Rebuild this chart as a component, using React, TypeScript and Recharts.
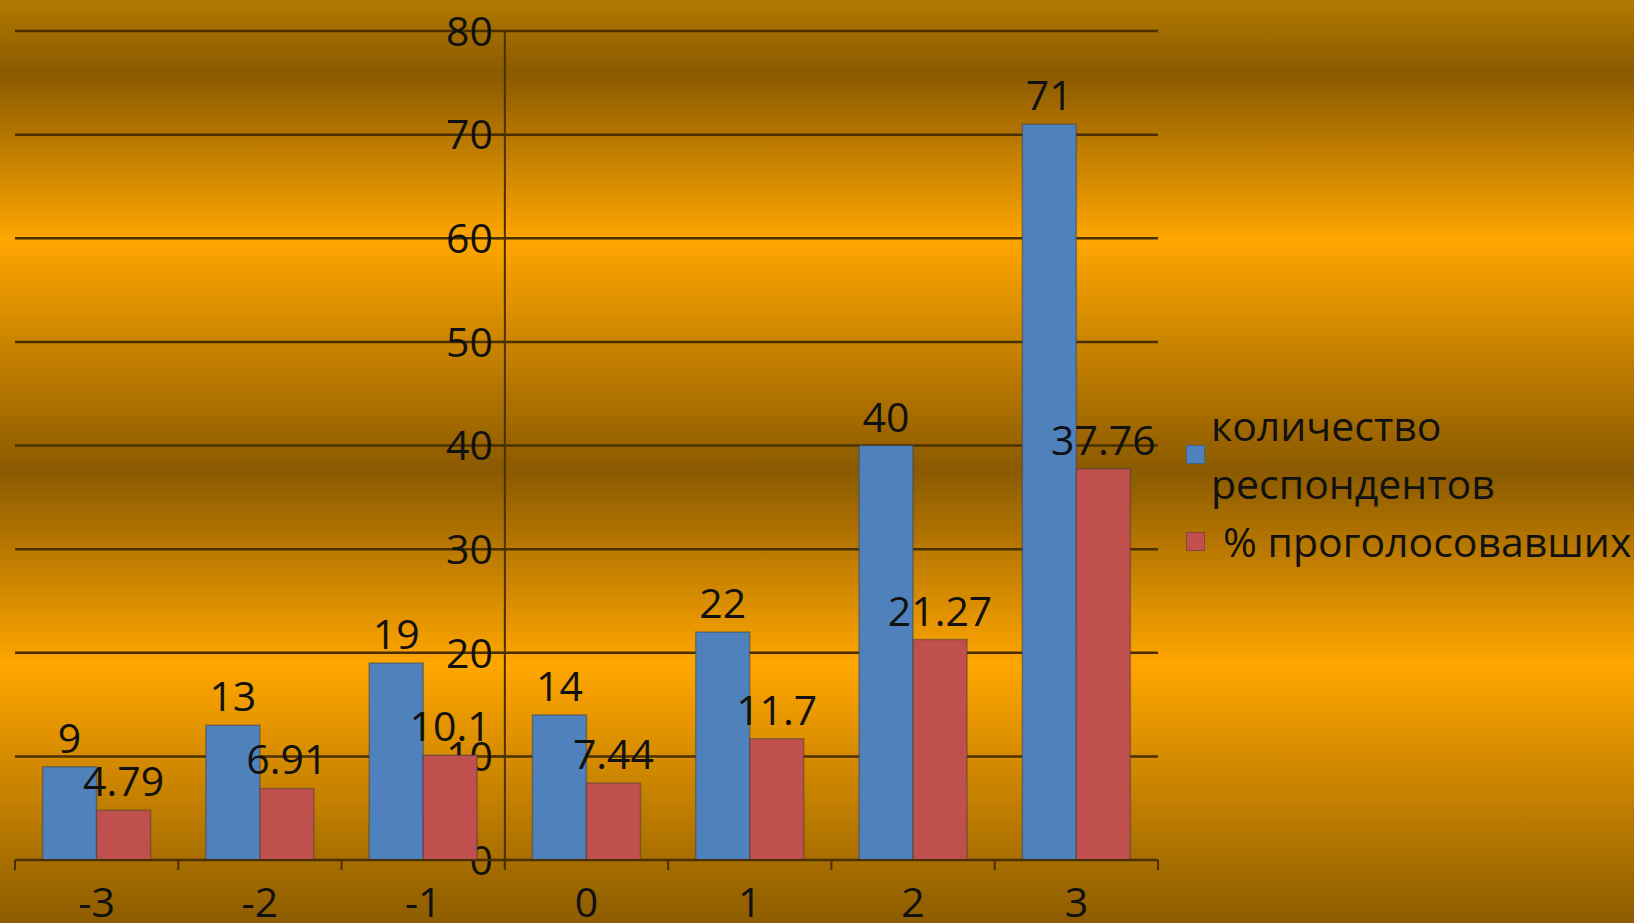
import React from "react";
import {
  BarChart,
  Bar,
  XAxis,
  YAxis,
  CartesianGrid,
  LabelList,
  ReferenceLine,
  Legend,
} from "recharts";

const categories = ["-3", "-2", "-1", "0", "1", "2", "3"];
const respondents = [9, 13, 19, 14, 22, 40, 71];
const votedPct = [4.79, 6.91, 10.1, 7.44, 11.7, 21.27, 37.76];
const yTicks = [0, 10, 20, 30, 40, 50, 60, 70, 80];
const seriesNames = ["количество респондентов", "% проголосовавших"];
const seriesColors = ["#4F81BD", "#C0504D"];

const data = categories.map((c, i) => ({
  cat: c,
  resp: respondents[i],
  pct: votedPct[i],
}));

const W = 1634;
const H = 923;
const Y_AXIS_W = 1;
const M = { top: 31, right: 476, bottom: 0, left: 15 - Y_AXIS_W };
const X_AXIS_H = 63;
const PLOT_LEFT = M.left + Y_AXIS_W;
const PLOT_W = W - PLOT_LEFT - M.right;
const BAND = PLOT_W / categories.length;
// value axis crosses between "-1" and "0"
const Y_AXIS_X = PLOT_LEFT + BAND * 3;
const AXIS_Y = H - M.bottom - X_AXIS_H;
const Y_MAX = yTicks[yTicks.length - 1];

const INK = "#111";
const LINE = "#4a3000";
const FONT = "'Open Sans', sans-serif";
const FS = 41;

const EmptyTick = () => <g />;

// gridline + value label + tick mark, drawn in the grid layer so bars sit on top
const GridRow = (props: any) => {
  const { x1, x2, y1 } = props;
  const value = Math.round(((AXIS_Y - y1) / (AXIS_Y - M.top)) * Y_MAX);
  return (
    <g key={`row-${value}`}>
      <line x1={x1} x2={x2} y1={y1} y2={y1} stroke={LINE} strokeWidth={2.5} />
      <line x1={Y_AXIS_X - 12} x2={Y_AXIS_X} y1={y1} y2={y1} stroke={LINE} strokeWidth={2} />
      {value === 0 && (
        <line x1={Y_AXIS_X} x2={Y_AXIS_X} y1={y1} y2={y1 + 8} stroke={LINE} strokeWidth={2} />
      )}
      <text
        x={Y_AXIS_X - 12}
        y={y1}
        dy="0.36em"
        textAnchor="end"
        fontSize={FS}
        fontFamily={FONT}
        fill={INK}
      >
        {value}
      </text>
    </g>
  );
};

const XTick = (props: any) => {
  const { x, payload, index } = props;
  const left = x - BAND / 2;
  return (
    <g>
      <line x1={left} x2={left} y1={AXIS_Y} y2={AXIS_Y + 10} stroke={LINE} strokeWidth={2} />
      {index === categories.length - 1 && (
        <line
          x1={x + BAND / 2}
          x2={x + BAND / 2}
          y1={AXIS_Y}
          y2={AXIS_Y + 10}
          stroke={LINE}
          strokeWidth={2}
        />
      )}
      <text x={x} y={AXIS_Y + 57} textAnchor="middle" fontSize={FS} fontFamily={FONT} fill={INK}>
        {payload.value}
      </text>
    </g>
  );
};

const LegendBox = () => (
  <div style={{ fontFamily: FONT, fontSize: FS, color: INK, lineHeight: "58px" }}>
    {seriesNames.map((n, i) => (
      <div key={n} style={{ display: "flex", alignItems: "center" }}>
        <span
          style={{
            flexShrink: 0,
            width: 17,
            height: 17,
            background: seriesColors[i],
            border: "1px solid rgba(60,60,60,0.45)",
          }}
        />
        <span style={{ marginLeft: i === 0 ? 6 : 18, width: 424 - (i === 0 ? 0 : 12) }}>{n}</span>
      </div>
    ))}
  </div>
);

export default function App() {
  return (
    <div
      style={{
        position: "absolute",
        left: 0,
        top: 0,
        width: W,
        height: H,
        overflow: "hidden",
        background:
          "linear-gradient(to bottom, #b27a00 0%, #8a5a00 8%, #ffa600 26%, #8a5a00 51%, #ffa600 72%, #8c5c00 100%)",
      }}
    >
      <BarChart
        width={W}
        height={H}
        data={data}
        margin={M}
        barCategoryGap="16.9%"
        barGap={0}
      >
        <CartesianGrid vertical={false} horizontal={GridRow} horizontalValues={yTicks} />
        <XAxis
          dataKey="cat"
          height={X_AXIS_H}
          interval={0}
          axisLine={{ stroke: LINE, strokeWidth: 2 }}
          tickLine={false}
          tick={<XTick />}
        />
        <YAxis
          width={Y_AXIS_W}
          domain={[0, Y_MAX]}
          ticks={yTicks}
          interval={0}
          axisLine={false}
          tickLine={false}
          tick={EmptyTick}
        />
        <ReferenceLine x="0" position="start" stroke={LINE} strokeWidth={2} />
        <Legend
          layout="vertical"
          align="center"
          verticalAlign="middle"
          content={<LegendBox />}
          wrapperStyle={{ left: 1186, top: 396, width: 448 }}
        />
        <Bar
          dataKey="resp"
          name={seriesNames[0]}
          fill={seriesColors[0]}
          stroke="rgba(60,60,60,0.45)"
          strokeWidth={1.5}
          isAnimationActive={false}
        >
          <LabelList dataKey="resp" position="top" offset={14} fontSize={FS} fontFamily={FONT} fill={INK} />
        </Bar>
        <Bar
          dataKey="pct"
          name={seriesNames[1]}
          fill={seriesColors[1]}
          stroke="rgba(60,60,60,0.45)"
          strokeWidth={1.5}
          isAnimationActive={false}
        >
          <LabelList dataKey="pct" position="top" offset={14} fontSize={FS} fontFamily={FONT} fill={INK} />
        </Bar>
      </BarChart>
    </div>
  );
}
